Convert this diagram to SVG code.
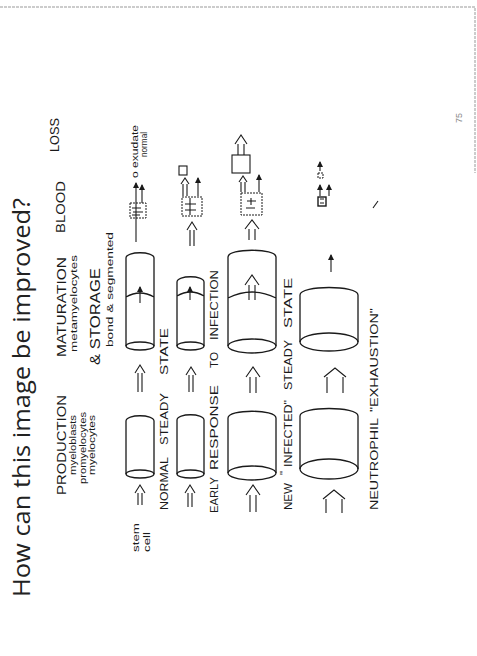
<svg xmlns="http://www.w3.org/2000/svg" width="477" height="656" viewBox="0 0 477 656">
<style>
.c{fill:none;stroke:#1a1a1a;stroke-width:1.3}
.a{fill:none;stroke:#1a1a1a;stroke-width:1.1}
.s{fill:none;stroke:#1a1a1a;stroke-width:1.1;marker-end:url(#h)}
.b{fill:none;stroke:#1a1a1a;stroke-width:1;stroke-dasharray:2 1}
.t{font-family:"Liberation Sans",Arial,sans-serif;fill:#1a1a1a}
.hd{font-size:13px}
.sm{font-size:8.5px}
.rl{font-size:11.5px}
</style>
<defs>
<marker id="h" markerUnits="userSpaceOnUse" markerWidth="6" markerHeight="6" refX="5" refY="3" orient="auto"><path d="M0,0 L6,3 L0,6 z" fill="#1a1a1a"/></marker>
</defs>
<rect width="477" height="656" fill="#fff"/>
<g id="page-border">
<path d="M0,7 H475 V173" fill="none" stroke="#999" stroke-width="1" stroke-dasharray="3 1"/>
<text class="t" x="462" y="123" font-size="9" transform="rotate(-90 462 123)" style="fill:#888">75</text>
</g>
<g id="title"><text class="t" x="30" y="597" font-size="24.5" textLength="399" lengthAdjust="spacingAndGlyphs" transform="rotate(-90 30 597)" style="font-family:'Open Sans','Liberation Sans',sans-serif;fill:#222">How can this image be improved?</text></g>
<g id="headings">
<text class="t hd" x="66" y="495" textLength="100" lengthAdjust="spacingAndGlyphs" transform="rotate(-90 66 495)">PRODUCTION</text>
<text class="t sm" x="76" y="475" textLength="60" lengthAdjust="spacingAndGlyphs" transform="rotate(-90 76 475)">myeloblasts</text>
<text class="t sm" x="86" y="484" textLength="72" lengthAdjust="spacingAndGlyphs" transform="rotate(-90 86 484)">promyelocytes</text>
<text class="t sm" x="95" y="475" textLength="60" lengthAdjust="spacingAndGlyphs" transform="rotate(-90 95 475)">myelocytes</text>
<text class="t hd" x="66" y="357" textLength="100" lengthAdjust="spacingAndGlyphs" transform="rotate(-90 66 357)">MATURATION</text>
<text class="t sm" x="77" y="352" textLength="97" lengthAdjust="spacingAndGlyphs" transform="rotate(-90 77 352)">metamyelocytes</text>
<text class="t" x="100" y="365" font-size="14" textLength="97" lengthAdjust="spacingAndGlyphs" transform="rotate(-90 100 365)">&amp; STORAGE</text>
<text class="t sm" x="113" y="347" textLength="115" lengthAdjust="spacingAndGlyphs" transform="rotate(-90 113 347)" style="font-size:9.5px">bond &amp; segmented</text>
<text class="t hd" x="65" y="233" textLength="52" lengthAdjust="spacingAndGlyphs" transform="rotate(-90 65 233)">BLOOD</text>
<text class="t hd" x="59" y="152" textLength="34" lengthAdjust="spacingAndGlyphs" transform="rotate(-90 59 152)">LOSS</text>
</g>
<g id="row1">
<g id="r1-label">
<text class="t rl" x="168" y="510" textLength="53" lengthAdjust="spacingAndGlyphs" transform="rotate(-90 168 510)">NORMAL</text>
<text class="t rl" x="168" y="445" textLength="52" lengthAdjust="spacingAndGlyphs" transform="rotate(-90 168 445)">STEADY</text>
<text class="t rl" x="168" y="375" textLength="47" lengthAdjust="spacingAndGlyphs" transform="rotate(-90 168 375)">STATE</text>
</g>
<text class="t sm" x="139" y="552" textLength="29" lengthAdjust="spacingAndGlyphs" transform="rotate(-90 139 552)">stem</text>
<text class="t sm" x="150" y="552" textLength="20" lengthAdjust="spacingAndGlyphs" transform="rotate(-90 150 552)">cell</text>
<g id="r1-production"><path class="c" d="M126,421 V474 M154,421 V474 M126,421 C126,414 154,414 154,421"/><ellipse class="c" cx="140" cy="474" rx="14" ry="4"/></g>
<g id="r1-maturation"><path class="c" d="M126,258 V346 M154,258 V346 M126,258 C126,251 154,251 154,258 M126,297 Q140,289 154,297"/><ellipse class="c" cx="140" cy="346" rx="14" ry="4"/></g>
<g id="r1-blood"><rect class="b" x="130" y="203" width="16" height="15"/><path class="a" d="M132,208 H141 M133,212 H143 M132,215 H140"/>
<text class="t sm" x="138" y="178" textLength="53" lengthAdjust="spacingAndGlyphs" transform="rotate(-90 138 178)">o exudate</text>
<text class="t sm" x="147" y="157" textLength="25" lengthAdjust="spacingAndGlyphs" transform="rotate(-90 147 157)">normal</text>
</g>
</g>
<g id="row2">
<g id="r2-label">
<text class="t rl" x="218" y="513" textLength="36" lengthAdjust="spacingAndGlyphs" transform="rotate(-90 218 513)">EARLY</text>
<text class="t rl" x="218" y="470" textLength="85" lengthAdjust="spacingAndGlyphs" transform="rotate(-90 218 470)">RESPONSE</text>
<text class="t rl" x="218" y="368" textLength="16" lengthAdjust="spacingAndGlyphs" transform="rotate(-90 218 368)">TO</text>
<text class="t rl" x="218" y="340" textLength="70" lengthAdjust="spacingAndGlyphs" transform="rotate(-90 218 340)">INFECTION</text>
</g>
<g id="r2-production"><path class="c" d="M177,420 V474 M204,420 V474 M177,420 C177,413 204,413 204,420"/><ellipse class="c" cx="190.5" cy="474" rx="13.5" ry="4"/></g>
<g id="r2-maturation"><path class="c" d="M177,282 V346 M204,282 V346 M177,282 C177,275 204,275 204,282 M177,296 Q190.5,288 204,296"/><ellipse class="c" cx="190.5" cy="346" rx="13.5" ry="4"/></g>
<g id="r2-blood"><rect class="b" x="182" y="197" width="20" height="19"/><path class="a" d="M190,198 V215 M185,204 H196 M185,210 H196"/><rect class="a" x="179" y="166" width="8" height="9"/></g>
</g>
<g id="row3">
<g id="r3-label">
<text class="t rl" x="292" y="510" textLength="27" lengthAdjust="spacingAndGlyphs" transform="rotate(-90 292 510)">NEW</text>
<text class="t rl" x="288" y="475" textLength="4" lengthAdjust="spacingAndGlyphs" transform="rotate(-90 288 475)">"</text>
<text class="t rl" x="292" y="467" textLength="67" lengthAdjust="spacingAndGlyphs" transform="rotate(-90 292 467)">INFECTED"</text>
<text class="t rl" x="292" y="390" textLength="50" lengthAdjust="spacingAndGlyphs" transform="rotate(-90 292 390)">STEADY</text>
<text class="t rl" x="292" y="328" textLength="50" lengthAdjust="spacingAndGlyphs" transform="rotate(-90 292 328)">STATE</text>
</g>
<g id="r3-production"><path class="c" d="M228,418 V473 M276,418 V473 M228,418 C228,409 276,409 276,418"/><ellipse class="c" cx="252" cy="473" rx="24" ry="7"/></g>
<g id="r3-maturation"><path class="c" d="M228,257 V346 M276,257 V346 M228,257 C228,248 276,248 276,257 M228,298 Q252,286 276,298"/><ellipse class="c" cx="252" cy="346" rx="24" ry="7"/></g>
<g id="r3-blood"><rect class="b" x="241" y="193" width="21" height="22"/><path class="a" d="M247,201 H256 M251,198 V205 M246,208 H255"/><rect class="a" x="232" y="155" width="18" height="18"/></g>
</g>
<g id="row4">
<g id="r4-label">
<text class="t rl" x="378" y="510" textLength="92" lengthAdjust="spacingAndGlyphs" transform="rotate(-90 378 510)">NEUTROPHIL</text>
<text class="t rl" x="378" y="412" textLength="104" lengthAdjust="spacingAndGlyphs" transform="rotate(-90 378 412)">"EXHAUSTION"</text>
</g>
<g id="r4-production"><path class="c" d="M300,416 V469 M358,416 V469 M300,416 C300,406 358,406 358,416"/><ellipse class="c" cx="329" cy="469" rx="29" ry="10"/></g>
<g id="r4-maturation"><path class="c" d="M300,295 V342 M358,295 V342 M300,295 C300,285 358,285 358,295"/><ellipse class="c" cx="329" cy="342" rx="29" ry="9"/></g>
<g id="r4-blood"><rect x="318" y="197" width="8" height="9" fill="none" stroke="#1a1a1a" stroke-width="1.4"/><path class="a" d="M320,199 H324 M320,203 H324"/><rect class="b" x="318" y="173" width="5" height="5"/></g>
<path id="mark" class="a" d="M373,208 L378,201"/>
</g>
<g id="connectors">
<path class="a" d="M138,505 V493 M142,505 V493 M135,493 L140,485 L145,493"/>
<path class="a" d="M138,392 V373 M142,392 V373 M135,373 L140,365 L145,373"/>
<line class="s" x1="140" y1="303" x2="140" y2="287"/>
<line class="s" x1="136" y1="242" x2="136" y2="183"/>
<line class="s" x1="142" y1="203" x2="142" y2="185"/>
<path class="a" d="M188,507 V493 M192,507 V493 M185,493 L190,485 L195,493"/>
<path class="a" d="M189,392 V375 M193,392 V375 M186,375 L191,367 L196,375"/>
<line class="s" x1="190" y1="300" x2="190" y2="287"/>
<path class="a" d="M190,246 V230 M194,246 V230 M187,230 L192,222 L197,230"/>
<path class="a" d="M183,196 V184 M187,196 V184 M181,184 L185,178 L189,184"/>
<line class="s" x1="198" y1="196" x2="198" y2="178"/>
<path class="a" d="M250,512 V495 M256,512 V495 M246,495 L253,485 L260,495"/>
<path class="a" d="M250,393 V377 M256,393 V377 M246,377 L253,367 L260,377"/>
<path class="a" d="M249,300 V285 M255,300 V285 M245,285 L252,275 L259,285"/>
<path class="a" d="M249,240 V229 M255,240 V229 M245,229 L252,220 L259,229"/>
<path class="a" d="M241,192 V182 M245,192 V182 M239,182 L243,176 L247,182"/>
<line class="s" x1="259" y1="192" x2="259" y2="175"/>
<path class="a" d="M238,155 V144 M244,155 V144 M235,144 L241,135 L247,144"/>
<path class="a" d="M326,513 V499 M342,513 V499 M323,499 L334,490 L345,499"/>
<path class="a" d="M327,393 V377 M343,393 V377 M324,377 L335,368 L346,377"/>
<line class="s" x1="331" y1="272" x2="331" y2="255"/>
<line class="s" x1="320" y1="196" x2="320" y2="185"/>
<line class="s" x1="329" y1="196" x2="329" y2="185"/>
<line class="s" x1="320" y1="171" x2="320" y2="162"/>
</g>
</svg>
